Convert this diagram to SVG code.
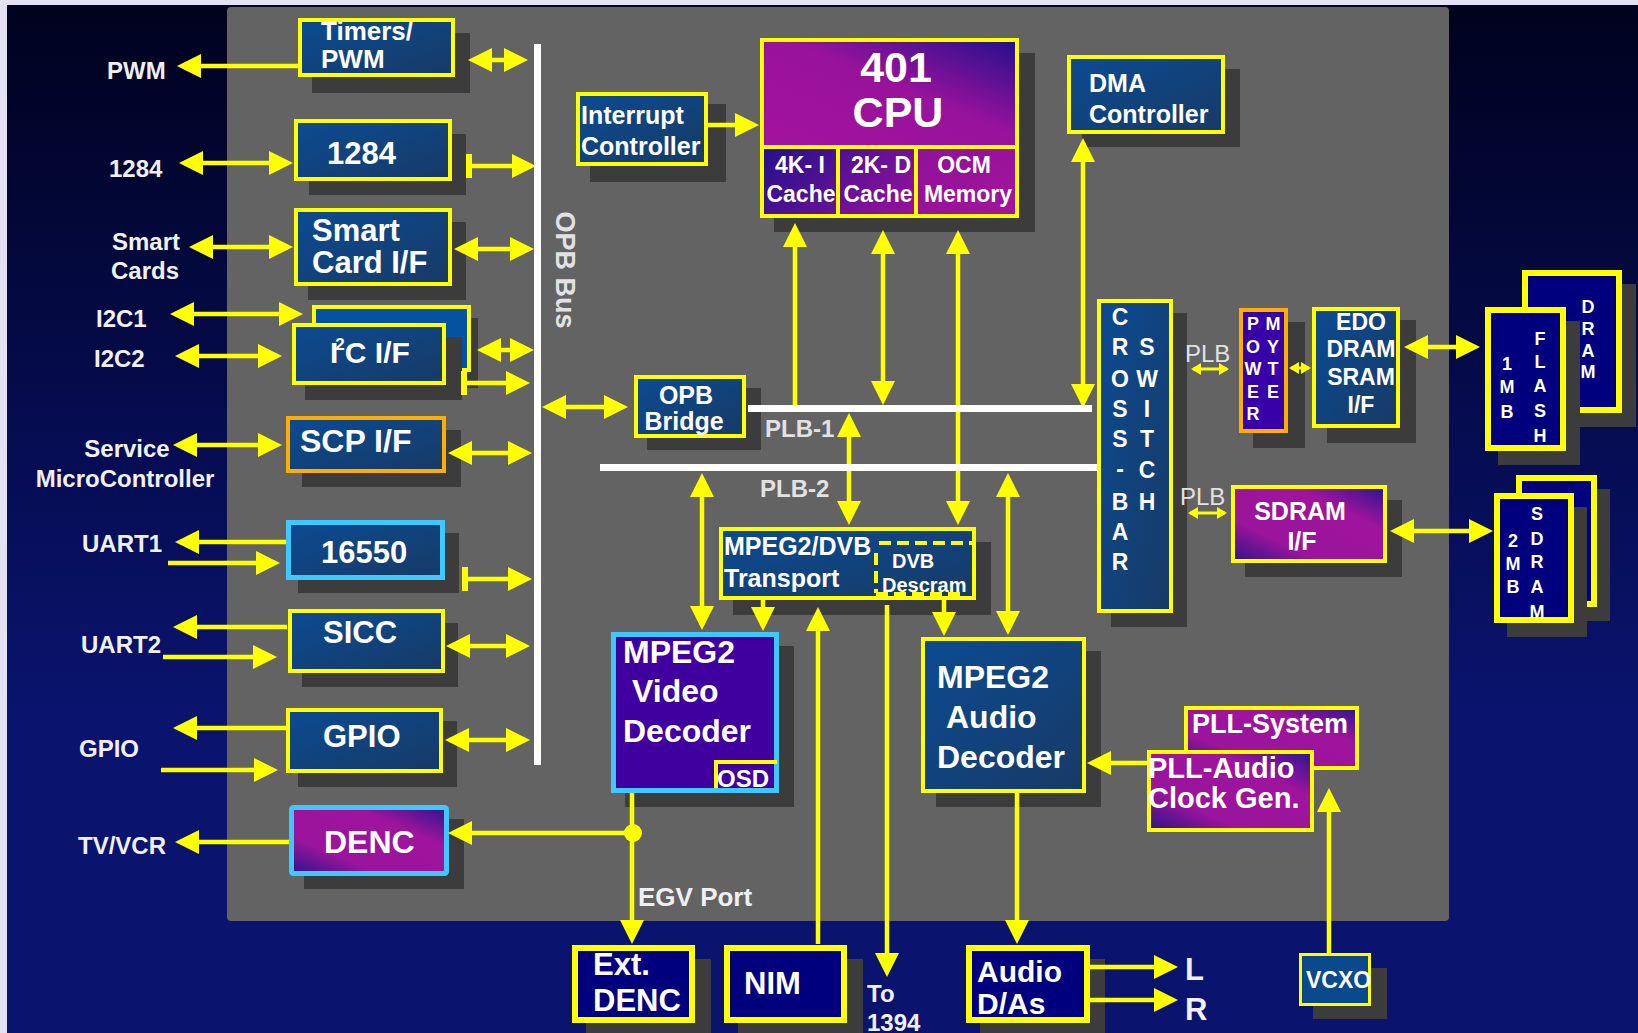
<svg xmlns="http://www.w3.org/2000/svg" width="1638" height="1033" viewBox="0 0 1638 1033">
<defs>
<linearGradient id="gBg" x1="0" y1="0" x2="0" y2="1">
<stop offset="0" stop-color="#00021e"/><stop offset="0.45" stop-color="#060d55"/><stop offset="0.7" stop-color="#0a146e"/><stop offset="1" stop-color="#0a146e"/>
</linearGradient>
<linearGradient id="gBlue" x1="0" y1="0" x2="1" y2="1"><stop offset="0" stop-color="#0b4b92"/><stop offset="1" stop-color="#173a66"/></linearGradient>
<linearGradient id="gMag" x1="0" y1="1" x2="1" y2="0"><stop offset="0" stop-color="#2c1488"/><stop offset="0.28" stop-color="#9a149c"/><stop offset="0.7" stop-color="#a0149c"/><stop offset="1" stop-color="#2a1590"/></linearGradient>
<linearGradient id="gCpu" x1="0" y1="1" x2="1" y2="0"><stop offset="0" stop-color="#a4129e"/><stop offset="0.55" stop-color="#98129c"/><stop offset="1" stop-color="#22108c"/></linearGradient>
<linearGradient id="g4k" x1="0" y1="0" x2="1" y2="1"><stop offset="0" stop-color="#22108a"/><stop offset="1" stop-color="#6a1298"/></linearGradient>
<linearGradient id="g2k" x1="0" y1="0" x2="1" y2="1"><stop offset="0" stop-color="#4c1094"/><stop offset="1" stop-color="#9a129a"/></linearGradient>
<linearGradient id="gOcm" x1="0" y1="0" x2="1" y2="1"><stop offset="0" stop-color="#8e1298"/><stop offset="1" stop-color="#a4149c"/></linearGradient>
<marker id="ah" viewBox="0 0 24 24" markerWidth="24" markerHeight="24" refX="19" refY="12" orient="auto-start-reverse" markerUnits="userSpaceOnUse"><path d="M0,0 L24,12 L0,24 Z" fill="#ffff00"/></marker>
<marker id="as" viewBox="0 0 10 12" markerWidth="10" markerHeight="12" refX="8" refY="6" orient="auto-start-reverse" markerUnits="userSpaceOnUse"><path d="M0,0 L10,6 L0,12 Z" fill="#ffff00"/></marker>
<style>
.sh{fill:#3c3c3c}
.bb{fill:url(#gBlue);stroke:#ffff00;stroke-width:4}
.mg{fill:url(#gMag);stroke:#ffff00;stroke-width:4}
.nv{fill:#00007f;stroke:#ffff00;stroke-width:6}
.t{font-family:"Liberation Sans",Arial,Helvetica,sans-serif;font-weight:bold;fill:#ffffff}
.lb{font-family:"Liberation Sans",Arial,Helvetica,sans-serif;font-weight:bold;fill:#f0f0f4;font-size:24px}
.big{font-size:31px}
.egv{font-size:26px}
.bl{font-family:"Liberation Sans",Arial,Helvetica,sans-serif;fill:#e2e2e2}
.m{text-anchor:middle}
.c{stroke:#ffff00;stroke-width:4.5;fill:none}
.cs{stroke:#ffff00;stroke-width:3;fill:none;marker-start:url(#as);marker-end:url(#as)}
.a1{marker-end:url(#ah)}
.a2{marker-start:url(#ah);marker-end:url(#ah)}
.bus{stroke:#ffffff;stroke-width:7;fill:none}
.y{fill:#ffff00}
</style>
</defs>
<rect width="1638" height="1033" fill="#e4e2f2"/>
<rect x="7" y="5" width="1631" height="1028" fill="url(#gBg)"/>
<rect id="chip" x="227" y="7" width="1222" height="914" rx="4" fill="#636363"/>

<g id="nodes">
<g id="timers"><rect class="sh" x="312" y="33" width="158" height="60"/><rect class="bb" x="300" y="20" width="153" height="55"/>
<text class="t" font-size="26"><tspan x="321" y="40">Timers/</tspan><tspan x="321" y="68">PWM</tspan></text></g>
<g id="n1284"><rect class="sh" x="309" y="134" width="157" height="61"/><rect class="bb" x="296" y="121" width="154" height="58"/>
<text class="t" font-size="31" x="327" y="164">1284</text></g>
<g id="smartcard"><rect class="sh" x="308" y="222" width="158" height="78"/><rect class="bb" x="296" y="210" width="154" height="74"/>
<text class="t" font-size="31"><tspan x="312" y="241">Smart</tspan><tspan x="312" y="273">Card I/F</tspan></text></g>
<g id="i2c"><rect class="sh" x="328" y="318" width="150" height="70"/><rect x="314" y="307" width="155" height="63" fill="#0452a0" stroke="#ffff00" stroke-width="4"/>
<rect class="sh" x="305" y="337" width="157" height="63"/><rect class="bb" x="294" y="325" width="150" height="58"/>
<text class="t" font-size="30" x="330" y="363">I<tspan font-size="17" dx="-3" dy="-13">2</tspan><tspan dy="13">C I/F</tspan></text></g>
<g id="scp"><rect class="sh" x="302" y="430" width="159" height="57"/><rect x="288" y="418" width="156" height="53" fill="url(#gBlue)" stroke="#ffae00" stroke-width="4"/>
<text class="t" font-size="32" x="300" y="452">SCP I/F</text></g>
<g id="uart16550"><rect class="sh" x="298" y="533" width="161" height="60"/><rect x="288.5" y="522.5" width="154" height="55" fill="url(#gBlue)" stroke="#3ec8ff" stroke-width="5"/>
<text class="t" font-size="31" x="321" y="563">16550</text></g>
<g id="sicc"><rect class="sh" x="302" y="623" width="156" height="64"/><rect class="bb" x="290" y="611" width="153" height="60"/>
<text class="t" font-size="31" x="323" y="643">SICC</text></g>
<g id="gpio"><rect class="sh" x="298" y="721" width="159" height="66"/><rect class="bb" x="288" y="710" width="153" height="61"/>
<text class="t" font-size="31" x="323" y="747">GPIO</text></g>
<g id="denc"><rect class="sh" x="304" y="819" width="160" height="70"/><rect x="291.5" y="807.5" width="155" height="66" rx="2" fill="url(#gMag)" stroke="#3ec8ff" stroke-width="5"/>
<text class="t" font-size="32" x="324" y="853">DENC</text></g>
<g id="interrupt"><rect class="sh" x="590" y="104" width="136" height="78"/><rect class="bb" x="578" y="94" width="128" height="70"/>
<text class="t" font-size="25"><tspan x="581" y="124">Interrupt</tspan><tspan x="581" y="155">Controller</tspan></text></g>
<g id="cpu"><rect class="sh" x="774" y="53" width="261" height="179"/>
<rect x="762" y="40" width="255" height="107" fill="url(#gCpu)" stroke="#ffff00" stroke-width="4"/>
<rect x="762" y="147" width="76" height="69" fill="url(#g4k)" stroke="#ffff00" stroke-width="4"/>
<rect x="838" y="147" width="78" height="69" fill="url(#g2k)" stroke="#ffff00" stroke-width="4"/>
<rect x="916" y="147" width="101" height="69" fill="url(#gOcm)" stroke="#ffff00" stroke-width="4"/>
<text class="t m" font-size="43" x="896" y="82">401</text><text class="t m" font-size="43" x="898" y="127">CPU</text>
<text class="t m" font-size="23"><tspan x="800" y="173">4K- I</tspan><tspan x="801" y="202">Cache</tspan></text>
<text class="t m" font-size="23"><tspan x="881" y="173">2K- D</tspan><tspan x="878" y="202">Cache</tspan></text>
<text class="t m" font-size="23"><tspan x="964" y="173">OCM</tspan><tspan x="968" y="202">Memory</tspan></text></g>
<g id="dma"><rect class="sh" x="1082" y="69" width="158" height="78"/><rect class="bb" x="1069" y="57" width="154" height="75"/>
<text class="t" font-size="25"><tspan x="1089" y="92">DMA</tspan><tspan x="1089" y="123">Controller</tspan></text></g>
<g id="opbbridge"><rect class="sh" x="647" y="388" width="114" height="62"/><rect class="bb" x="636" y="377" width="108" height="59"/>
<text class="t m" font-size="25"><tspan x="686" y="404">OPB</tspan><tspan x="684" y="430">Bridge</tspan></text></g>
<g id="crossbar"><rect class="sh" x="1111" y="313" width="76" height="314"/><rect class="bb" x="1099" y="301" width="72" height="310"/>
<text class="t m" font-size="23"><tspan x="1120" y="325">C</tspan><tspan x="1120" y="355">R</tspan><tspan x="1120" y="387">O</tspan><tspan x="1120" y="417">S</tspan><tspan x="1120" y="447">S</tspan><tspan x="1120" y="477">-</tspan><tspan x="1120" y="510">B</tspan><tspan x="1120" y="540">A</tspan><tspan x="1120" y="570">R</tspan></text>
<text class="t m" font-size="23"><tspan x="1147" y="355">S</tspan><tspan x="1147" y="387">W</tspan><tspan x="1147" y="417">I</tspan><tspan x="1147" y="447">T</tspan><tspan x="1147" y="478">C</tspan><tspan x="1147" y="510">H</tspan></text></g>
<g id="power"><rect class="sh" x="1253" y="322" width="52" height="126"/><rect x="1241" y="310" width="45" height="121" fill="#3800a8" stroke="#ffae00" stroke-width="4"/>
<text class="t m" font-size="18"><tspan x="1253" y="330">P</tspan><tspan x="1253" y="353">O</tspan><tspan x="1253" y="375">W</tspan><tspan x="1253" y="398">E</tspan><tspan x="1253" y="420">R</tspan></text>
<text class="t m" font-size="18"><tspan x="1273" y="330">M</tspan><tspan x="1273" y="353">Y</tspan><tspan x="1273" y="375">T</tspan><tspan x="1273" y="398">E</tspan></text></g>
<g id="edo"><rect class="sh" x="1327" y="320" width="89" height="123"/><rect class="bb" x="1314" y="309" width="84" height="117"/>
<text class="t m" font-size="23"><tspan x="1361" y="330">EDO</tspan><tspan x="1361" y="357">DRAM</tspan><tspan x="1361" y="385">SRAM</tspan><tspan x="1361" y="413">I/F</tspan></text></g>
<g id="flash"><rect class="sh" x="1536" y="284" width="100" height="143"/><rect class="nv" x="1525" y="273" width="94" height="137"/>
<text class="t m" font-size="18"><tspan x="1588" y="313">D</tspan><tspan x="1588" y="335">R</tspan><tspan x="1588" y="357">A</tspan><tspan x="1588" y="378">M</tspan></text>
<rect class="sh" x="1498" y="321" width="82" height="144"/><rect class="nv" x="1488" y="310" width="75" height="138"/>
<text class="t m" font-size="18"><tspan x="1507" y="370">1</tspan><tspan x="1507" y="393">M</tspan><tspan x="1507" y="418">B</tspan></text>
<text class="t m" font-size="18"><tspan x="1540" y="345">F</tspan><tspan x="1540" y="368">L</tspan><tspan x="1540" y="392">A</tspan><tspan x="1540" y="417">S</tspan><tspan x="1540" y="442">H</tspan></text></g>
<g id="sdramif"><rect class="sh" x="1245" y="500" width="157" height="77"/><rect class="mg" x="1233" y="487" width="152" height="74"/>
<text class="t m" font-size="25"><tspan x="1300" y="520">SDRAM</tspan><tspan x="1302" y="550">I/F</tspan></text></g>
<g id="sdram"><rect class="sh" x="1530" y="489" width="80" height="132"/><rect class="nv" x="1519" y="478" width="75" height="126"/>
<rect class="sh" x="1507" y="507" width="80" height="130"/><rect class="nv" x="1497" y="496" width="74" height="124"/>
<text class="t m" font-size="18"><tspan x="1513" y="547">2</tspan><tspan x="1513" y="570">M</tspan><tspan x="1513" y="593">B</tspan></text>
<text class="t m" font-size="18"><tspan x="1537" y="520">S</tspan><tspan x="1537" y="545">D</tspan><tspan x="1537" y="568">R</tspan><tspan x="1537" y="593">A</tspan><tspan x="1537" y="618">M</tspan></text></g>
<g id="transport"><rect class="sh" x="733" y="542" width="258" height="73"/><rect class="bb" x="721" y="529" width="253" height="69"/>
<text class="t" font-size="25"><tspan x="724" y="555">MPEG2/DVB</tspan><tspan x="724" y="587">Transport</tspan></text>
<path d="M879,543 H972 M876,553 V593 M876,594 H962" stroke="#ffff00" stroke-width="4" stroke-dasharray="12,6" fill="none"/>
<text class="t" font-size="20"><tspan x="892" y="568">DVB</tspan><tspan x="882" y="592">Descram</tspan></text></g>
<g id="videodec"><rect class="sh" x="625" y="646" width="169" height="161"/><rect x="613.5" y="634.5" width="163" height="156" fill="#4000a0" stroke="#3ec8ff" stroke-width="5"/>
<text class="t" font-size="32"><tspan x="623" y="663">MPEG2</tspan><tspan x="632" y="702">Video</tspan><tspan x="623" y="742">Decoder</tspan></text>
<path d="M716,788 V762 H777" stroke="#ffff00" stroke-width="4" fill="none"/>
<text class="t" font-size="24" x="717" y="787">OSD</text></g>
<g id="audiodec"><rect class="sh" x="936" y="651" width="165" height="156"/><rect class="bb" x="923" y="639" width="161" height="152"/>
<text class="t" font-size="32"><tspan x="937" y="688">MPEG2</tspan><tspan x="946" y="728">Audio</tspan><tspan x="937" y="768">Decoder</tspan></text></g>
<g id="pllsys"><rect class="mg" x="1186" y="708" width="171" height="60"/>
<text class="t" font-size="27" x="1192" y="733">PLL-System</text></g>
<g id="pllaudio"><rect class="mg" x="1149" y="752" width="163" height="78"/>
<text class="t" font-size="29"><tspan x="1148" y="778">PLL-Audio</tspan><tspan x="1148" y="808">Clock Gen.</tspan></text></g>
<g id="extdenc"><rect class="sh" x="586" y="959" width="125" height="78"/><rect class="nv" x="575" y="948" width="117" height="72"/>
<text class="t" font-size="31"><tspan x="593" y="975">Ext.</tspan><tspan x="593" y="1011">DENC</tspan></text></g>
<g id="nim"><rect class="sh" x="738" y="959" width="125" height="78"/><rect class="nv" x="727" y="948" width="117" height="72"/>
<text class="t" font-size="31" x="744" y="994">NIM</text></g>
<g id="audiodas"><rect class="sh" x="980" y="959" width="125" height="78"/><rect class="nv" x="969" y="948" width="118" height="72"/>
<text class="t" font-size="30"><tspan x="977" y="982">Audio</tspan><tspan x="977" y="1014">D/As</tspan></text></g>
<g id="vcxo"><rect class="sh" x="1313" y="968" width="74" height="51"/><rect x="1300.5" y="954.5" width="69" height="50" fill="#0a4a8c" stroke="#ffff00" stroke-width="3"/>
<text class="t" font-size="23" x="1306" y="988">VCXO</text></g>
</g>

<g id="labels">
<text class="lb" x="107" y="79">PWM</text>
<text class="lb" x="109" y="177">1284</text>
<text class="lb m"><tspan x="146" y="250">Smart</tspan><tspan x="145" y="279">Cards</tspan></text>
<text class="lb" x="96" y="327">I2C1</text>
<text class="lb" x="94" y="367">I2C2</text>
<text class="lb m"><tspan x="127" y="457">Service</tspan><tspan x="125" y="487">MicroController</tspan></text>
<text class="lb" x="82" y="552">UART1</text>
<text class="lb" x="81" y="653">UART2</text>
<text class="lb" x="79" y="757">GPIO</text>
<text class="lb" x="78" y="854">TV/VCR</text>
<text class="lb egv" x="638" y="906">EGV Port</text>
<text class="lb" x="867" y="1002">To</text>
<text class="lb" x="867" y="1031">1394</text>
<text class="lb big" x="1185" y="980">L</text>
<text class="lb big" x="1185" y="1020">R</text>
<text class="bl" x="765" y="437" font-size="24" font-weight="bold">PLB-1</text>
<text class="bl" x="760" y="497" font-size="24" font-weight="bold">PLB-2</text>
<text class="bl" x="1185" y="362" font-size="24">PLB</text>
<text class="bl" x="1180" y="505" font-size="24">PLB</text>
<text class="bl m" font-size="27" font-weight="bold" transform="translate(565,270) rotate(90)" dy="0.35em">OPB Bus</text>
</g>

<g id="connectors">
<path class="c a1" d="M298,66 H182"/>
<path class="c a2" d="M473,60 H523"/>
<path class="c a2" d="M184,163 H288"/>
<path class="c a1" d="M471,166 H531"/><rect class="y" x="466" y="154" width="6" height="24"/>
<path class="c a2" d="M194,247 H288"/>
<path class="c a2" d="M459,249 H529"/>
<path class="c a2" d="M175,314 H298"/>
<path class="c a2" d="M180,356 H277"/>
<path class="c a2" d="M482,350 H529"/>
<path class="c a1" d="M466,383 H525"/><rect class="y" x="461" y="371" width="6" height="24"/>
<path class="c a2" d="M178,445 H277"/>
<path class="c a2" d="M453,453 H527"/>
<path class="c a1" d="M286,542 H180"/>
<path class="c a1" d="M168,563 H275"/>
<path class="c a1" d="M467,579 H527"/><rect class="y" x="462" y="567" width="6" height="24"/>
<path class="c a1" d="M287,627 H178"/>
<path class="c a1" d="M163,657 H272"/>
<path class="c a2" d="M451,646 H525"/>
<path class="c a1" d="M286,728 H178"/>
<path class="c a1" d="M161,770 H273"/>
<path class="c a2" d="M450,740 H525"/>
<path class="c a1" d="M289,842 H180"/>
<path class="c a1" d="M633,833 H453"/>
<path class="c a1" d="M632,793 V939"/>
<circle class="y" cx="633" cy="833" r="9"/>
<path class="c a2" d="M547,407 H623"/>
<path class="c a1" d="M708,125 H754"/>
<path class="c a1" d="M795,405 V228"/>
<path class="c a2" d="M883,235 V400"/>
<path class="c a2" d="M958,235 V520"/>
<path class="c a2" d="M1083,143 V403"/>
<path class="c a2" d="M849,418 V520"/>
<path class="c a2" d="M702,478 V625"/>
<path class="c a1" d="M763,600 V626"/>
<path class="c a1" d="M944,600 V631"/>
<path class="c a2" d="M1008,478 V630"/>
<path class="c a1" d="M818,944 V612"/>
<path class="c a1" d="M887,605 V972"/>
<path class="c a1" d="M1017,793 V939"/>
<path class="c a1" d="M1090,967 H1173"/>
<path class="c a1" d="M1090,1000 H1173"/>
<path class="c a1" d="M1329,953 V793"/>
<path class="c a1" d="M1147,763 H1092"/>
<path class="cs" d="M1193,369 H1227"/>
<path class="cs" d="M1291,368 H1309"/>
<path class="c a2" d="M1409,347 H1475"/>
<path class="cs" d="M1190,513 H1225"/>
<path class="c a2" d="M1395,531 H1488"/>
<path class="bus" d="M537.5,44 V765"/>
<path class="bus" d="M748,408.5 H1092"/>
<path class="bus" d="M600,467.5 H1097"/>
</g>
</svg>
